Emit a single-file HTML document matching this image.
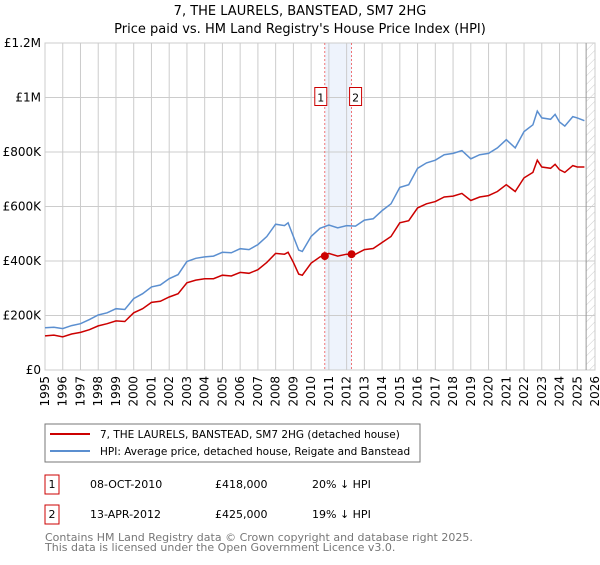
<!DOCTYPE html>
<html><head><meta charset="utf-8"><style>
body{margin:0;background:#fff;font-family:"Liberation Sans","DejaVu Sans",sans-serif;}
</style></head><body>
<svg width="600" height="560" xmlns="http://www.w3.org/2000/svg" font-family="DejaVu Sans, Liberation Sans, sans-serif">
<defs><pattern id="hatch" width="6" height="6" patternUnits="userSpaceOnUse" patternTransform="rotate(45)"><line x1="0" y1="0" x2="0" y2="6" stroke="#ccc" stroke-width="1"/></pattern></defs>
<text x="300" y="15" text-anchor="middle" font-size="13">7, THE LAURELS, BANSTEAD, SM7 2HG</text>
<text x="300" y="33" text-anchor="middle" font-size="13">Price paid vs. HM Land Registry's House Price Index (HPI)</text>
<g id="grid"></g>
<g id="marks"></g>
<rect x="45" y="424" width="375" height="38" fill="#fff" stroke="#777"/>
<line x1="50" y1="434" x2="90" y2="434" stroke="#cc0000" stroke-width="2"/>
<text x="100" y="438" font-size="10.5">7, THE LAURELS, BANSTEAD, SM7 2HG (detached house)</text>
<line x1="50" y1="451" x2="90" y2="451" stroke="#5b8fd0" stroke-width="2"/>
<text x="100" y="455" font-size="10.5">HPI: Average price, detached house, Reigate and Banstead</text>
<g font-size="11">
<rect x="45" y="475" width="14" height="19" fill="#fff" stroke="#cc0000"/>
<text x="52" y="488" text-anchor="middle">1</text>
<text x="90" y="488">08-OCT-2010</text><text x="215" y="488">£418,000</text><text x="312" y="488">20% ↓ HPI</text>
<rect x="45" y="505" width="14" height="19" fill="#fff" stroke="#cc0000"/>
<text x="52" y="518" text-anchor="middle">2</text>
<text x="90" y="518">13-APR-2012</text><text x="215" y="518">£425,000</text><text x="312" y="518">19% ↓ HPI</text>
</g>
<text x="45" y="541" font-size="11" fill="#777">Contains HM Land Registry data © Crown copyright and database right 2025.</text>
<text x="45" y="551" font-size="11" fill="#777">This data is licensed under the Open Government Licence v3.0.</text>
</svg>
<script>
const hpiYears=[1995,1995.5,1996,1996.5,1997,1997.5,1998,1998.5,1999,1999.5,2000,2000.5,2001,2001.5,2002,2002.5,2003,2003.5,2004,2004.5,2005,2005.5,2006,2006.5,2007,2007.5,2008,2008.5,2008.7,2009,2009.3,2009.5,2010,2010.5,2011,2011.5,2012,2012.5,2013,2013.5,2014,2014.5,2015,2015.5,2016,2016.5,2017,2017.5,2018,2018.5,2019,2019.5,2020,2020.5,2021,2021.5,2022,2022.5,2022.75,2023,2023.5,2023.75,2024,2024.3,2024.75,2025,2025.4];
const hpiValues=[155,157,152,163,170,185,202,210,225,222,262,280,305,312,335,350,398,410,415,418,432,430,445,442,460,490,535,530,540,490,440,435,490,520,532,522,530,528,550,555,585,610,670,680,740,760,770,790,795,805,775,790,795,815,845,815,875,900,950,925,920,938,910,895,930,925,915];
const propValues=[125,128,122,132,138,148,162,170,180,178,210,225,248,252,268,280,320,330,335,335,348,345,358,355,368,395,428,425,432,395,352,348,392,415,428,418,425,425,442,446,468,490,540,548,595,610,618,635,638,648,622,635,640,655,680,655,705,725,770,745,740,755,735,725,750,745,745];
const saleYears=[2010.77,2012.28];
const saleValues=[418,425];
const saleLabels=["1","2"];
const yTicks=[0,200,400,600,800,1000,1200];
const yTickLabels=["£0","£200K","£400K","£600K","£800K","£1M","£1.2M"];
const xTicks=[1995,1996,1997,1998,1999,2000,2001,2002,2003,2004,2005,2006,2007,2008,2009,2010,2011,2012,2013,2014,2015,2016,2017,2018,2019,2020,2021,2022,2023,2024,2025,2026];
const NS="http://www.w3.org/2000/svg";
const X0=45,X1=595,Y0=370,Y1=43,xMin=1995,xMax=2026,yMax=1200;
const xs=v=>X0+(v-xMin)/(xMax-xMin)*(X1-X0);
const ys=v=>Y0-v/yMax*(Y0-Y1);
const grid=document.getElementById('grid'),marks=document.getElementById('marks');
function mk(tag,attrs,parent){const e=document.createElementNS(NS,tag);for(const k in attrs)e.setAttribute(k,attrs[k]);parent.appendChild(e);return e;}
mk('rect',{x:X0,y:Y1,width:X1-X0,height:Y0-Y1,fill:'#fff',stroke:'#ccc'},grid);
const band=mk('rect',{x:xs(saleYears[0]),y:Y1,width:xs(saleYears[1])-xs(saleYears[0]),height:Y0-Y1,fill:'#eef3fc'},grid);


const hatchX=xs(2025.5);
const hr=mk('rect',{x:hatchX,y:Y1,width:X1-hatchX,height:Y0-Y1,fill:'url(#hatch)'},grid);


yTicks.forEach((t,i)=>{
 mk('line',{x1:X0,x2:X1,y1:ys(t),y2:ys(t),stroke:'#ccc'},grid);
 const tx=mk('text',{x:X0-4,y:ys(t)+4,'text-anchor':'end','font-size':12},grid);
 tx.textContent=yTickLabels[i];
 
 
});
xTicks.forEach(t=>{
 mk('line',{x1:xs(t),x2:xs(t),y1:Y1,y2:Y0,stroke:'#ccc'},grid);
 const tx=mk('text',{x:0,y:0,'text-anchor':'end','font-size':12,transform:`translate(${xs(t)+4},${Y0+6}) rotate(-90)`},grid);
 tx.textContent=t;
 
 
});
mk('line',{x1:hatchX,x2:hatchX,y1:Y1,y2:Y0,stroke:'#999'},grid);
saleYears.forEach((s,i)=>{
 const l=mk('line',{x1:xs(s),x2:xs(s),y1:Y1,y2:Y0,stroke:'#e55','stroke-dasharray':'2,2','stroke-width':0.8},marks);
 
 
 const bx=xs(s)+(i===0?-4:4);
 const b=mk('rect',{x:bx-6,y:ys(1000)-10,width:12,height:18,fill:'#fff',stroke:'#cc0000'},marks);
 
 
 const t=mk('text',{x:bx,y:ys(1000)+4,'text-anchor':'middle','font-size':11},marks);
 t.textContent=saleLabels[i];
});
function path(vals,color,name){
 const d=hpiYears.map((y,i)=>(i?'L':'M')+xs(y).toFixed(1)+','+ys(vals[i]).toFixed(1)).join('');
 const p=mk('path',{d:d,fill:'none',stroke:color,'stroke-width':1.5},marks);
 
 
}
path(hpiValues,'#5b8fd0','hpi-line');
path(propValues,'#cc0000','property-line');
saleYears.forEach((s,i)=>{
 const c=mk('circle',{cx:xs(s),cy:ys(saleValues[i]),r:4,fill:'#cc0000'},marks);
 
 
});
</script>
</body></html>
